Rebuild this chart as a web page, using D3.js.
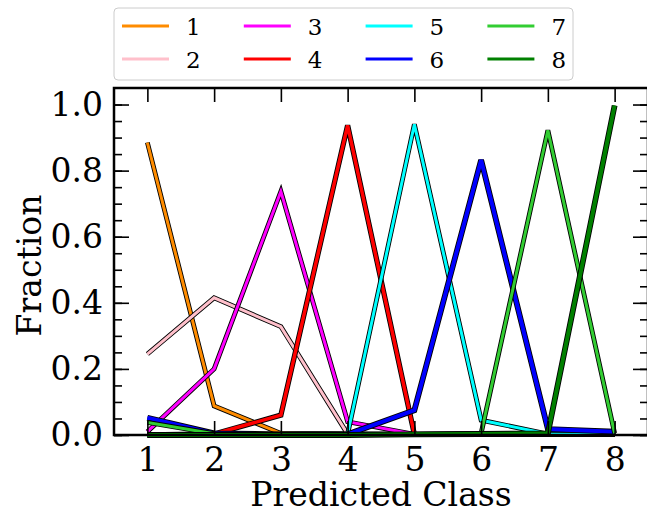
<!DOCTYPE html>
<html>
<head>
<meta charset="utf-8">
<script src="https://cdn.jsdelivr.net/npm/d3@7/dist/d3.min.js"></script>
<style>
  html, body { margin: 0; padding: 0; background: #fff; }
  svg { display: block; font-family: "DejaVu Serif", serif; }
</style>
</head>
<body>
<svg id="chart" width="647" height="512"></svg>
<script>
// Predicted class on the x axis
const classes = [1, 2, 3, 4, 5, 6, 7, 8];

// Fraction of each true class assigned to each predicted class
const class1 = [0.885, 0.088, 0.005, 0.003, 0.002, 0.002, 0.002, 0.002];
const class2 = [0.245, 0.415, 0.328, 0.003, 0.002, 0.002, 0.002, 0.002];
const class3 = [0.010, 0.200, 0.737, 0.040, 0.002, 0.002, 0.002, 0.002];
const class4 = [0.000, 0.003, 0.060, 0.937, 0.002, 0.002, 0.002, 0.002];
const class5 = [0.000, 0.000, 0.000, 0.003, 0.940, 0.045, 0.003, 0.002];
const class6 = [0.052, 0.005, 0.002, 0.002, 0.075, 0.832, 0.018, 0.010];
const class7 = [0.038, 0.004, 0.002, 0.002, 0.002, 0.005, 0.922, 0.005];
const class8 = [0.000, 0.000, 0.000, 0.000, 0.002, 0.003, 0.005, 0.997];

const seriesNames = ["1", "2", "3", "4", "5", "6", "7", "8"];
const seriesValues = [class1, class2, class3, class4, class5, class6, class7, class8];

const yTicks = [0.0, 0.2, 0.4, 0.6, 0.8, 1.0];
const yMinorTicks = d3.range(0, 1.0001, 0.05);

// Styling
const colors = ["#ff8c00", "#ffc0cb", "#ff00ff", "#ff0000", "#00ffff", "#0000ff", "#32cd32", "#008000"];
const lineWidths = [3, 3, 3, 3.5, 3, 4, 3, 4];
const fontFamily = "DejaVu Serif, serif";

const svg = d3.select("#chart");
const plotLeft = 114, plotRight = 648, plotTop = 88, plotBottom = 435;

const x = d3.scaleLinear().domain([0.5, 8.5]).range([plotLeft, plotRight]);
const y = d3.scaleLinear().domain([0, 1.05]).range([plotBottom, plotTop]);

// Data lines: black outline under each coloured stroke
const line = d3.line().x((d, i) => x(classes[i])).y(d => y(d));
const lines = svg.append("g");
seriesValues.forEach((vals, k) => {
  lines.append("path").datum(vals).attr("d", line)
    .attr("fill", "none").attr("stroke", "#000")
    .attr("stroke-width", lineWidths[k] + 1.8)
    .attr("stroke-linejoin", "miter");
  lines.append("path").datum(vals).attr("d", line)
    .attr("fill", "none").attr("stroke", colors[k])
    .attr("stroke-width", lineWidths[k])
    .attr("stroke-linejoin", "miter");
});

// Axes with inward ticks
const tickFont = 33;
const xBottom = d3.axisBottom(x).tickValues(classes).tickSize(-14).tickPadding(13).tickFormat(d3.format("d"));
const xTop = d3.axisTop(x).tickValues(classes).tickSize(-14).tickFormat("");
const yLeft = d3.axisLeft(y).tickValues(yTicks).tickSize(-15).tickPadding(11).tickFormat(d3.format(".1f"));
const yLeftMinor = d3.axisLeft(y).tickValues(yMinorTicks).tickSize(-8).tickFormat("");
const yRight = d3.axisRight(y).tickValues(yTicks).tickSize(-15).tickFormat("");
const yRightMinor = d3.axisRight(y).tickValues(yMinorTicks).tickSize(-8).tickFormat("");

function styleAxis(g) {
  g.select(".domain").remove();
  g.selectAll(".tick line").attr("stroke", "#000").attr("stroke-width", 1.6);
  g.selectAll(".tick text").attr("font-family", fontFamily).attr("font-size", tickFont).attr("fill", "#000");
}

svg.append("g").attr("transform", `translate(0,${plotBottom})`).call(xBottom).call(styleAxis);
svg.append("g").attr("transform", `translate(0,${plotTop})`).call(xTop).call(styleAxis);
svg.append("g").attr("transform", `translate(${plotLeft},0)`).call(yLeftMinor).call(styleAxis);
svg.append("g").attr("transform", `translate(${plotLeft},0)`).call(yLeft).call(styleAxis);
svg.append("g").attr("transform", `translate(${plotRight},0)`).call(yRightMinor).call(styleAxis);
svg.append("g").attr("transform", `translate(${plotRight},0)`).call(yRight).call(styleAxis);

// Frame
svg.append("rect").attr("x", plotLeft).attr("y", plotTop)
  .attr("width", plotRight - plotLeft).attr("height", plotBottom - plotTop)
  .attr("fill", "none").attr("stroke", "#000").attr("stroke-width", 2.5);

// Axis titles
svg.append("text").attr("x", (plotLeft + plotRight) / 2).attr("y", 506)
  .attr("text-anchor", "middle").attr("font-family", fontFamily).attr("font-size", 33).text("Predicted Class");
svg.append("text").attr("transform", `translate(41,${(plotTop + plotBottom) / 2 + 4}) rotate(-90)`)
  .attr("text-anchor", "middle").attr("font-family", fontFamily).attr("font-size", 33).text("Fraction");

// Legend, 4 columns x 2 rows
const legend = svg.append("g");
legend.append("rect").attr("x", 114).attr("y", 8).attr("width", 459).attr("height", 72)
  .attr("rx", 4).attr("fill", "#fff").attr("stroke", "#cccccc").attr("stroke-width", 1);
seriesNames.forEach((name, k) => {
  const col = Math.floor(k / 2), row = k % 2;
  const lx = 122 + col * 121.8, ly = 26 + row * 33;
  legend.append("line").attr("x1", lx).attr("x2", lx + 47).attr("y1", ly).attr("y2", ly)
    .attr("stroke", colors[k]).attr("stroke-width", 3);
  legend.append("text").attr("x", lx + 64).attr("y", ly + 8.5)
    .attr("font-family", fontFamily).attr("font-size", 23).text(name);
});
</script>
</body>
</html>
